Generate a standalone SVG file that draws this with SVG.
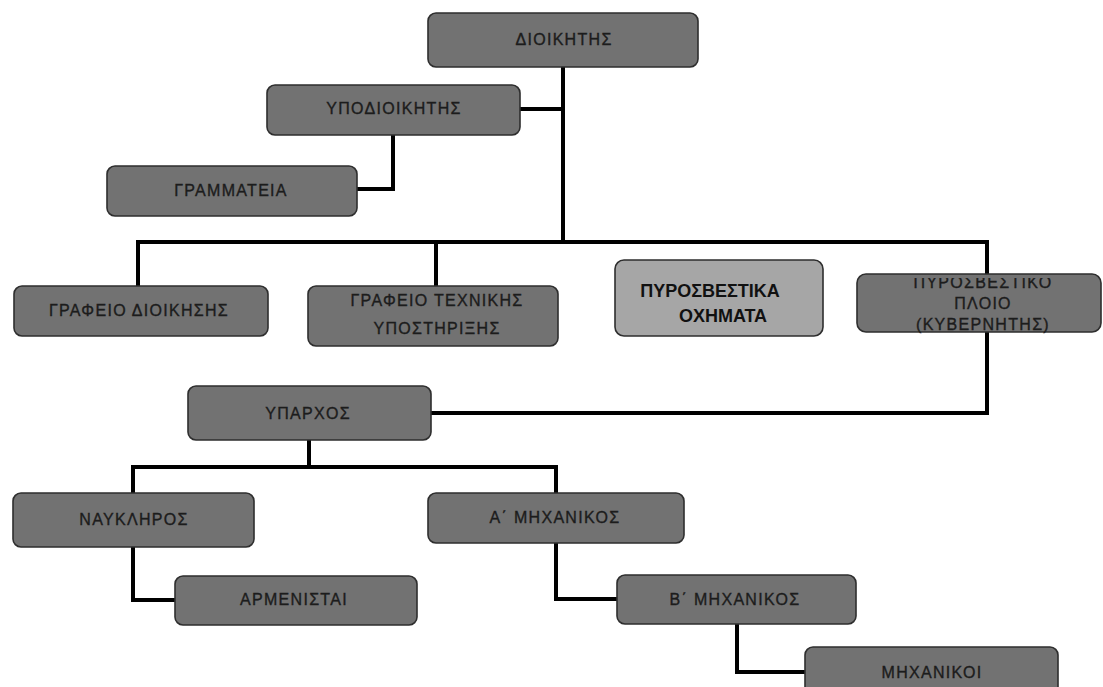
<svg xmlns="http://www.w3.org/2000/svg" width="1103" height="687" viewBox="0 0 1103 687">
<style>
.box{fill:#727272;stroke:#2e2e2e;stroke-width:1.6}
.hl{fill:#a6a6a6;stroke:#2e2e2e;stroke-width:1.6}
.t{font-family:"Liberation Sans",Arial,sans-serif;font-size:16px;letter-spacing:1.3px;fill:#1c1c1c;stroke:#1c1c1c;stroke-width:0.35;text-anchor:middle}
.b{font-family:"Liberation Sans",Arial,sans-serif;font-size:18px;font-weight:bold;fill:#111;text-anchor:middle}
.c{fill:none;stroke:#000;stroke-width:4;stroke-linejoin:miter;stroke-linecap:square}
</style>
<defs>
<clipPath id="shipclip"><rect x="840" y="278" width="263" height="80"/></clipPath>
</defs>
<rect width="1103" height="687" fill="#fff"/>
<g id="connectors">
<path class="c" d="M563 67 V242"/>
<path class="c" d="M138 286 V242 H987 V413 H431"/>
<path class="c" d="M520 109 H563"/>
<path class="c" d="M393 135 V189 H357"/>
<path class="c" d="M436 242 V286"/>
<path class="c" d="M309 440 V467"/>
<path class="c" d="M133 493 V467 H556 V493"/>
<path class="c" d="M133 547 V600 H175"/>
<path class="c" d="M556 543 V599 H617"/>
<path class="c" d="M737 624 V672 H805"/>
</g>
<g id="n-dioikitis"><rect class="box" x="428" y="13" width="270" height="54" rx="8"/><text class="t" x="564" y="45">ΔΙΟΙΚΗΤΗΣ</text></g>
<g id="n-ypodioikitis"><rect class="box" x="267" y="85" width="253" height="50" rx="8"/><text class="t" x="394" y="114">ΥΠΟΔΙΟΙΚΗΤΗΣ</text></g>
<g id="n-grammateia"><rect class="box" x="107" y="166" width="250" height="50" rx="8"/><text class="t" x="231" y="196">ΓΡΑΜΜΑΤΕΙΑ</text></g>
<g id="n-grafeio-dioikisis"><rect class="box" x="14" y="286" width="254" height="50" rx="8"/><text class="t" x="139" y="316">ΓΡΑΦΕΙΟ ΔΙΟΙΚΗΣΗΣ</text></g>
<g id="n-grafeio-texnikis"><rect class="box" x="308" y="286" width="250" height="60" rx="8"/><text class="t" x="437" y="306">ΓΡΑΦΕΙΟ ΤΕΧΝΙΚΗΣ</text><text class="t" x="437" y="334">ΥΠΟΣΤΗΡΙΞΗΣ</text></g>
<g id="n-oximata"><rect class="hl" x="615" y="260" width="208" height="76" rx="9"/><text class="b" x="710" y="297">ΠΥΡΟΣΒΕΣΤΙΚΑ</text><text class="b" x="723" y="322">ΟΧΗΜΑΤΑ</text></g>
<g id="n-ploio"><rect class="box" x="857" y="274" width="244" height="58" rx="9"/><g clip-path="url(#shipclip)"><text class="t" x="983" y="288">ΠΥΡΟΣΒΕΣΤΙΚΟ</text><text class="t" x="983" y="309">ΠΛΟΙΟ</text><text class="t" x="983" y="330">(ΚΥΒΕΡΝΗΤΗΣ)</text></g></g>
<g id="n-ypar"><rect class="box" x="188" y="386" width="243" height="54" rx="8"/><text class="t" x="308" y="419">ΥΠΑΡΧΟΣ</text></g>
<g id="n-nayklhros"><rect class="box" x="13" y="493" width="241" height="54" rx="8"/><text class="t" x="134" y="525">ΝΑΥΚΛΗΡΟΣ</text></g>
<g id="n-a-mhx"><rect class="box" x="428" y="493" width="256" height="50" rx="8"/><text class="t" x="555" y="523">Α΄ ΜΗΧΑΝΙΚΟΣ</text></g>
<g id="n-armenistai"><rect class="box" x="175" y="576" width="242" height="49" rx="8"/><text class="t" x="294" y="605">ΑΡΜΕΝΙΣΤΑΙ</text></g>
<g id="n-b-mhx"><rect class="box" x="617" y="575" width="239" height="49" rx="8"/><text class="t" x="735" y="605">Β΄ ΜΗΧΑΝΙΚΟΣ</text></g>
<g id="n-mhxanikoi"><rect class="box" x="805" y="647" width="253" height="60" rx="8"/><text class="t" x="932" y="678">ΜΗΧΑΝΙΚΟΙ</text></g>
</svg>
